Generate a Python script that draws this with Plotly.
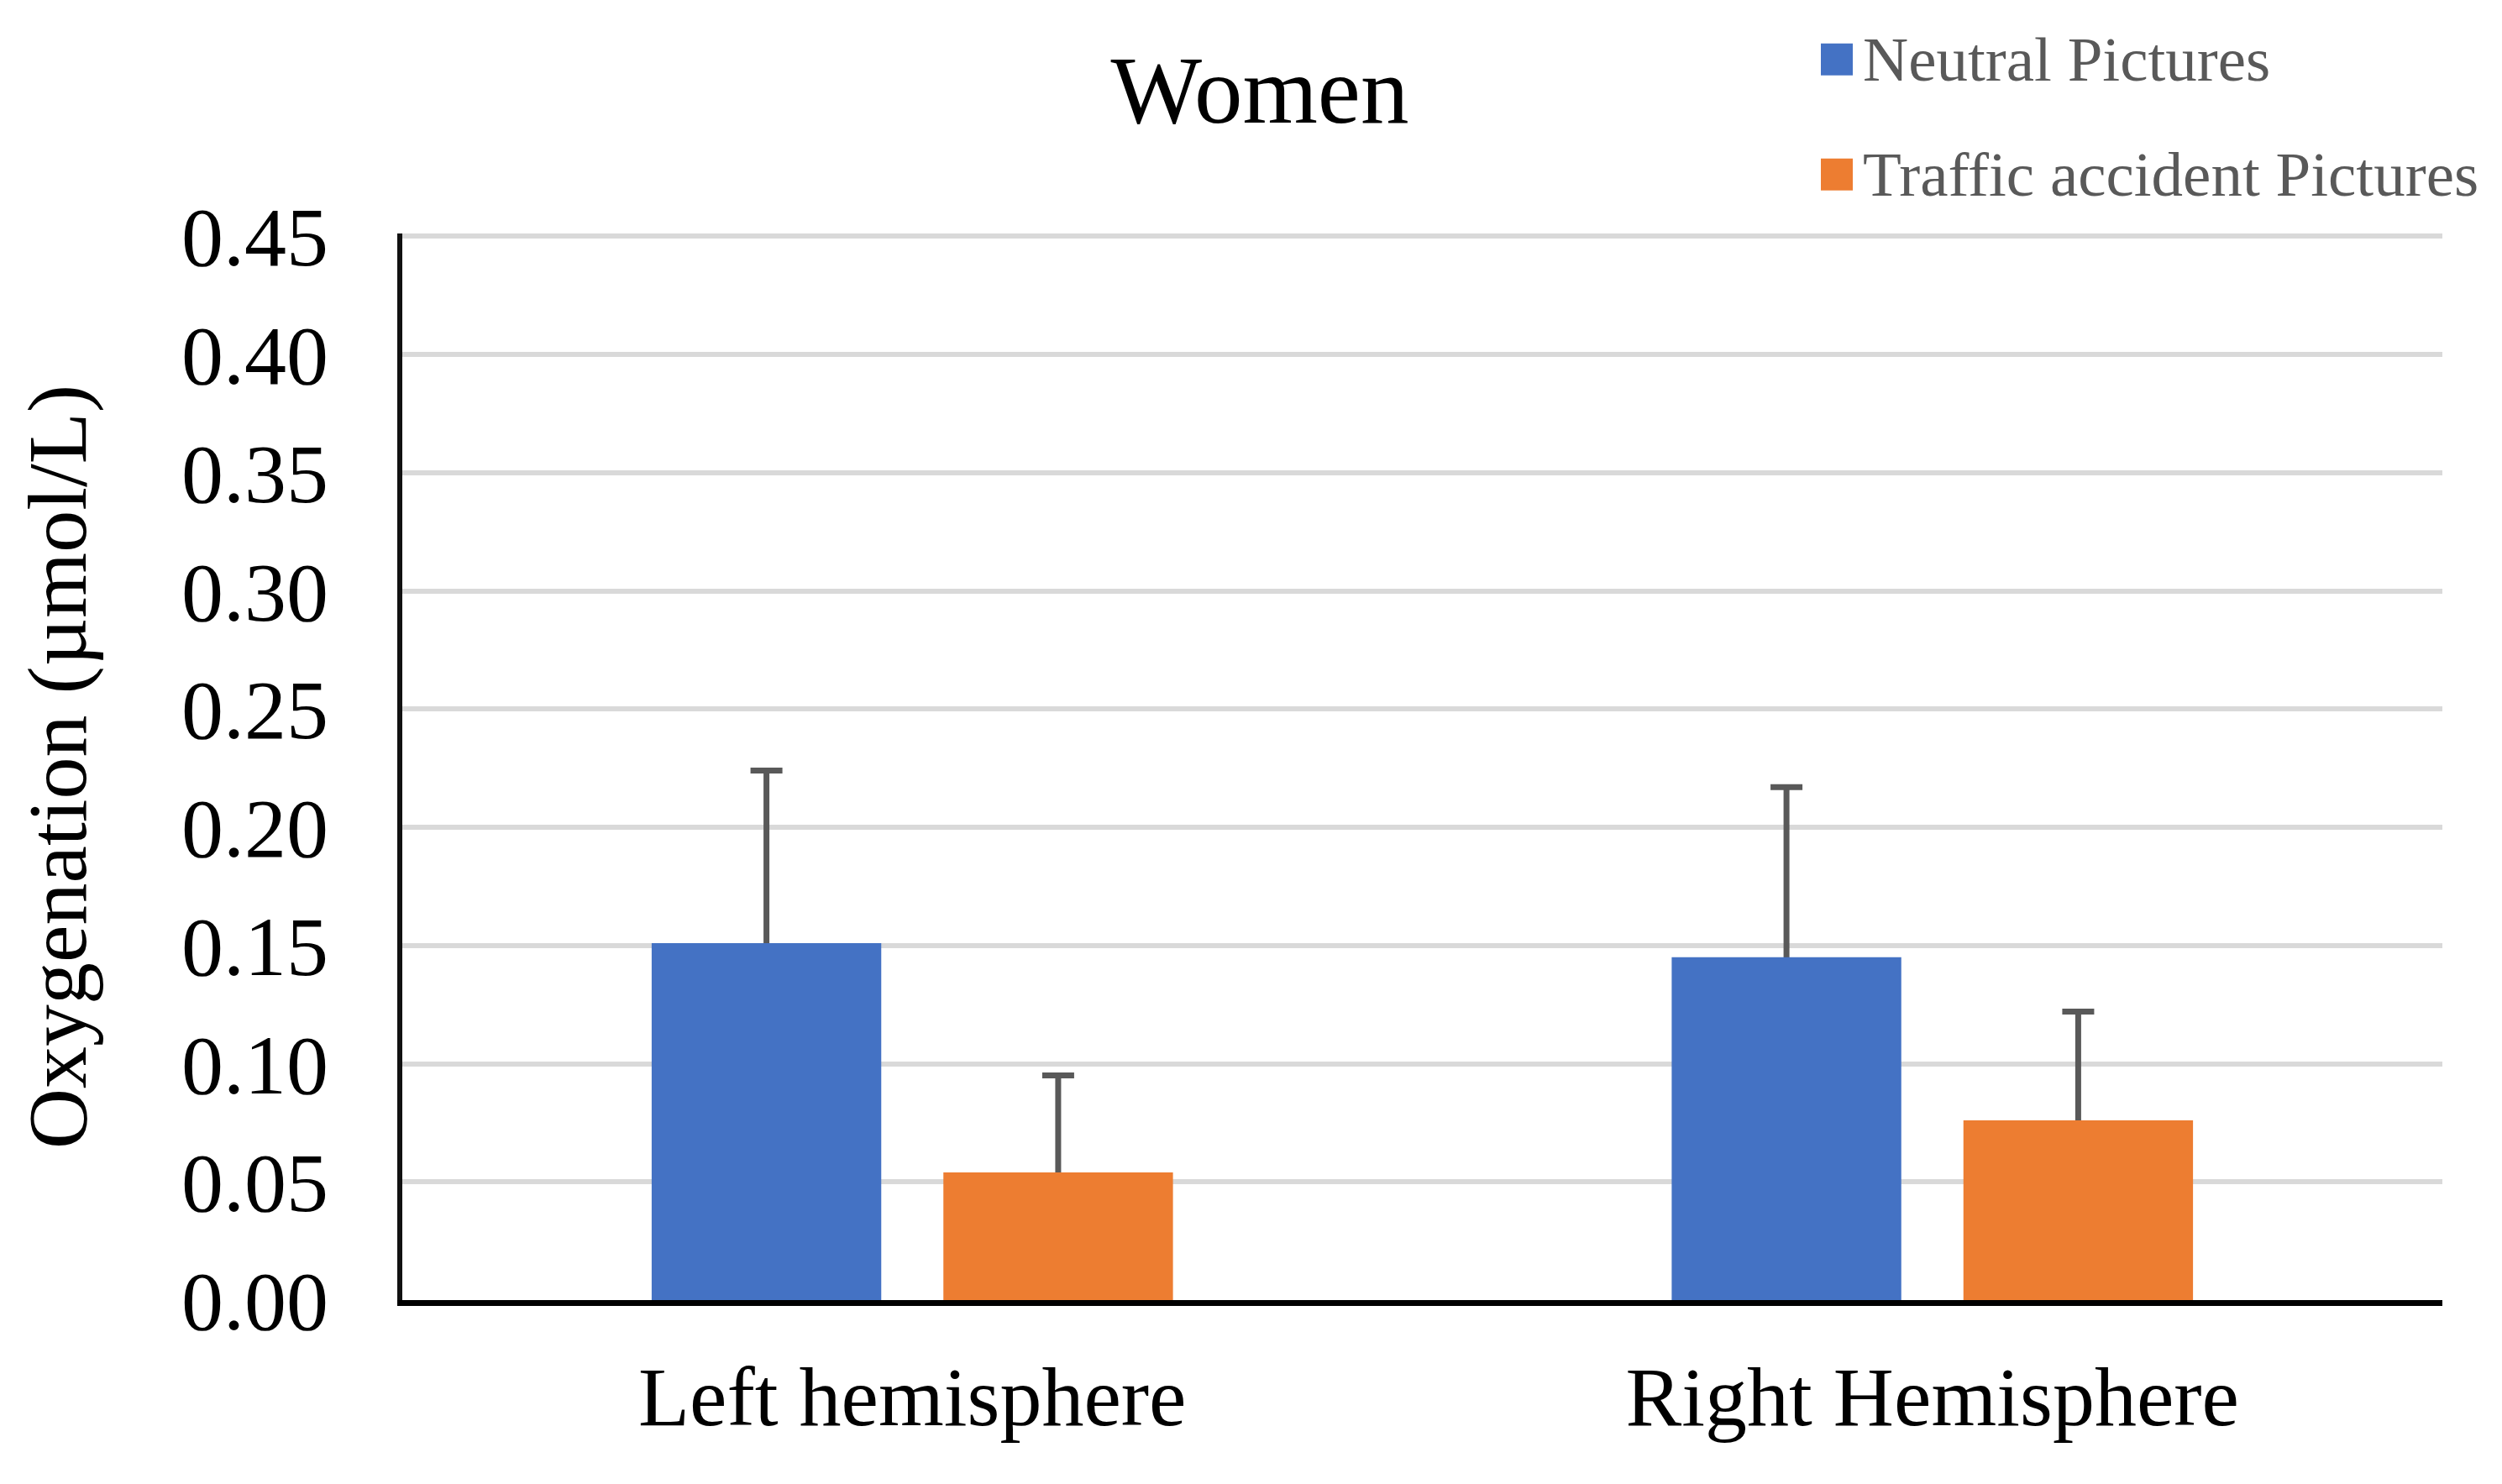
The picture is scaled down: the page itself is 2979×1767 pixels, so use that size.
import plotly.graph_objects as go

# ---------------- data ----------------
categories = ["Left hemisphere", "Right Hemisphere"]
series_names = ["Neutral Pictures", "Traffic accident Pictures"]
neutral = [0.151, 0.145]
neutral_err = [0.073, 0.072]
traffic = [0.054, 0.076]
traffic_err = [0.041, 0.046]
y_ticks = [0.00, 0.05, 0.10, 0.15, 0.20, 0.25, 0.30, 0.35, 0.40, 0.45]
y_tick_labels = ["0.00", "0.05", "0.10", "0.15", "0.20", "0.25", "0.30", "0.35", "0.40", "0.45"]
title_text = "Women"
y_title = "Oxygenation (µmol/L)"

# ---------------- style ----------------
colors = ["#4472C4", "#ED7D31"]
err_color = "#595959"
grid_color = "#D9D9D9"
FONT = "Liberation Serif, Times New Roman, serif"

# the page body has an 8px default margin; size the figure to fit the window
BODY = 8
W, H = 2979 - 2 * BODY, 1767 - 2 * BODY
Y_TOP_TICK = 0.45
YMAX = 0.4512            # slightly above the top tick so its gridline is drawn
Y0_PX, YTOP_PX = 1548 - BODY, 281.5 - BODY
px_per_unit = (Y0_PX - YTOP_PX) / Y_TOP_TICK
ML = 479 - BODY
MR = W - (2908 - BODY)
MT = YTOP_PX - (YMAX - Y_TOP_TICK) * px_per_unit
MB = H - Y0_PX
PW, PH = W - ML - MR, H - MT - MB


def pxx(px):
    return (px - ML) / PW


def pxy(py):
    return (H - MB - py) / PH


fig = go.Figure()

series = [
    (series_names[0], neutral, neutral_err, colors[0], "n"),
    (series_names[1], traffic, traffic_err, colors[1], "t"),
]

# error bars on transparent bars (drawn first, covered by visible bars)
for name, vals, errs, col, grp in series:
    fig.add_trace(go.Bar(
        x=categories, y=vals, offsetgroup=grp, name=name,
        marker=dict(color="rgba(0,0,0,0)", line=dict(width=0)),
        error_y=dict(type="data", symmetric=False, array=errs, arrayminus=vals,
                     color=err_color, thickness=7, width=19),
        showlegend=False, hoverinfo="skip",
    ))

for name, vals, errs, col, grp in series:
    fig.add_trace(go.Bar(
        x=categories, y=vals, offsetgroup=grp, name=name,
        marker=dict(color=col, line=dict(width=0)),
        showlegend=False,
    ))

# custom legend (large square swatches like the original)
shapes = []
annotations = []
legend_rows = [63, 200]
sw = 38
for (name, vals, errs, col, grp), cy in zip(series, legend_rows):
    shapes.append(dict(type="rect", xref="paper", yref="paper",
                       x0=pxx(2160), x1=pxx(2160 + sw),
                       y0=pxy(cy + sw / 2), y1=pxy(cy - sw / 2),
                       fillcolor=col, line=dict(width=0), layer="above"))
    annotations.append(dict(text=name, xref="paper", yref="paper",
                            x=pxx(2208), y=pxy(cy), xanchor="left", yanchor="middle",
                            showarrow=False,
                            font=dict(family=FONT, size=75, color=err_color)))

fig.update_layout(
    width=W, height=H,
    margin=dict(l=ML, r=MR, t=MT, b=MB, autoexpand=False),
    paper_bgcolor="white", plot_bgcolor="white",
    barmode="group", bargap=0.428, bargroupgap=0.213,
    showlegend=False,
    title=dict(text=title_text, x=1492 / W, xanchor="center",
               y=1 - 98 / H, yanchor="middle",
               font=dict(family=FONT, size=115, color="black")),
    shapes=shapes, annotations=annotations,
    font=dict(family=FONT, color="black"),
)

fig.update_xaxes(
    type="category", showgrid=False, zeroline=False,
    showline=True, linecolor="black", linewidth=7,
    ticks="", ticklabelstandoff=22,
    tickfont=dict(family=FONT, size=100, color="black"),
    automargin=False,
)

fig.update_yaxes(
    range=[0, YMAX], tickvals=y_ticks, ticktext=y_tick_labels,
    showgrid=True, gridcolor=grid_color, gridwidth=6,
    zeroline=False, showline=True, linecolor="#111111", linewidth=6,
    ticks="", ticklabelstandoff=62,
    tickfont=dict(family=FONT, size=100, color="black"),
    title=dict(text=y_title, standoff=82,
               font=dict(family=FONT, size=100, color="black")),
    automargin=False,
)

fig.write_html("out.html")
